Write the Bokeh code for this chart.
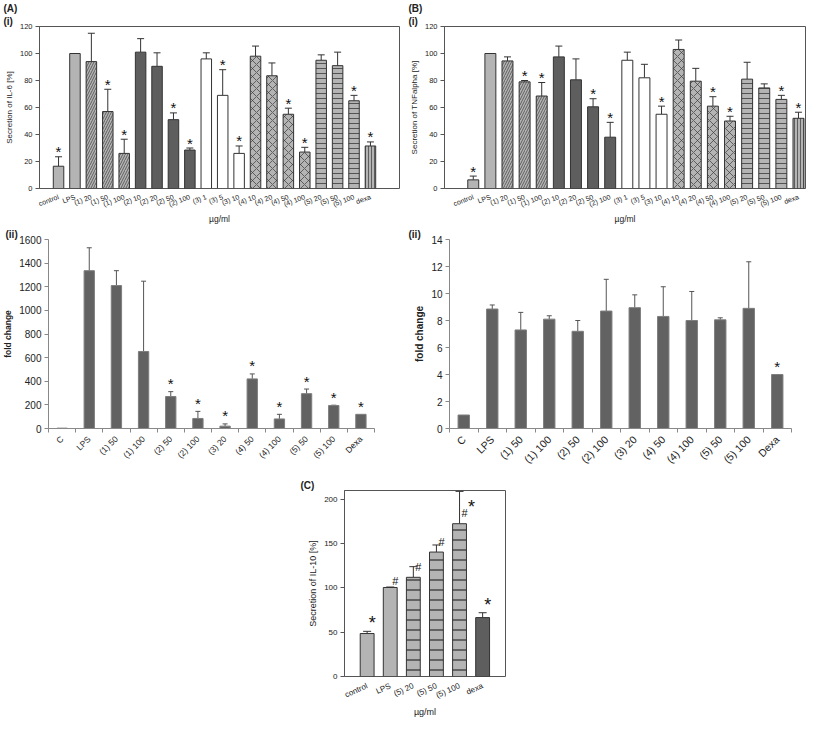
from math import pi
from bokeh.plotting import figure
from bokeh.models import FixedTicker, Title, Range1d, Whisker, TeeHead, ColumnDataSource, Spacer
from bokeh.layouts import row, column
from bokeh.embed import file_html
from bokeh.resources import INLINE
from bokeh.core.properties import value

FONT = "Liberation Sans"
TXT = "#222222"

# ---------------- data ----------------
screen_cats = ["control", "LPS", "(1) 20", "(1) 50", "(1) 100", "(2) 10", "(2) 20", "(2) 50", "(2) 100",
               "(3) 1", "(3) 5", "(3) 10", "(4) 10", "(4) 20", "(4) 50", "(4) 100",
               "(5) 20", "(5) 50", "(5) 100", "dexa"]
screen_group = ["ctrl", "ctrl", "1", "1", "1", "2", "2", "2", "2", "3", "3", "3",
                "4", "4", "4", "4", "5", "5", "5", "dexa"]

il6_mean = [16.5, 100, 94, 57, 26, 101, 90.5, 51, 28.5, 96, 69, 26, 98, 83.5, 55, 27, 95, 91, 65, 31.5]
il6_upper = [23.5, 100, 115, 73.5, 36.5, 111, 100.5, 56, 30, 100.5, 88, 31.5, 105.5, 93, 59.5, 30.5, 99, 101, 69, 34.5]
il6_sig = [1, 0, 0, 1, 1, 0, 0, 1, 1, 0, 1, 1, 0, 0, 1, 1, 0, 0, 1, 1]

tnf_mean = [6.4, 100, 94.5, 79, 68.5, 97.5, 80.5, 60.5, 38, 95, 82, 55, 103, 79.5, 61, 50, 81, 74.5, 66, 52]
tnf_upper = [9.2, 100, 97.5, 80, 78.5, 105.5, 96, 66.5, 49, 101, 92, 61, 110, 89, 68, 53.5, 93.5, 77.5, 69, 56.5]
tnf_sig = [1, 0, 0, 1, 1, 0, 0, 1, 1, 0, 0, 1, 0, 0, 1, 1, 0, 0, 1, 1]

pcr_cats = ["C", "LPS", "(1) 50", "(1) 100", "(2) 50", "(2) 100", "(3) 20", "(4) 50", "(4) 100",
            "(5) 50", "(5) 100", "Dexa"]
il6_fold_mean = [3, 1336, 1210, 652, 271, 85, 20, 420, 81, 295, 195, 120]
il6_fold_upper = [3, 1530, 1336, 1247, 312, 145, 39, 462, 120, 334, 197, 120]
il6_fold_sig = [0, 0, 0, 0, 1, 1, 1, 1, 1, 1, 1, 1]
il6_fold_ticks = [0, 200, 400, 600, 800, 1000, 1200, 1400, 1600]

tnf_fold_mean = [1, 8.85, 7.3, 8.1, 7.2, 8.7, 8.95, 8.3, 8.0, 8.05, 8.9, 4.0]
tnf_fold_upper = [1, 9.15, 8.6, 8.35, 8.0, 11.05, 9.9, 10.5, 10.15, 8.2, 12.35, 4.0]
tnf_fold_sig = [0, 0, 0, 0, 0, 0, 0, 0, 0, 0, 0, 1]
tnf_fold_ticks = [0, 2, 4, 6, 8, 10, 12, 14]

screen_ticks = [0, 20, 40, 60, 80, 100, 120]

il10_cats = ["control", "LPS", "(5) 20", "(5) 50", "(5) 100", "dexa"]
il10_group = ["ctrl", "ctrl", "5c", "5c", "5c", "2"]
il10_mean = [48.5, 100.5, 112, 140.5, 172.5, 66.5]
il10_upper = [51, 101, 124, 148.5, 209, 72]
il10_star = [1, 0, 0, 0, 1, 1]
il10_hash = [0, 1, 1, 1, 1, 0]
il10_ticks = [0, 50, 100, 150, 200]

# ---------------- styles ----------------
LIGHT = "#b4b4b4"
DARK = "#5e5e5e"
EDGE = "#333333"
HATCH = "#3a3a3a"
STYLE = {
    "ctrl": dict(fill_color=LIGHT),
    "1": dict(fill_color=LIGHT, hatch_pattern="/", hatch_color=HATCH, hatch_scale=5, hatch_weight=0.7),
    "2": dict(fill_color=DARK),
    "3": dict(fill_color="white"),
    "4": dict(fill_color=LIGHT, hatch_pattern="x", hatch_color=HATCH, hatch_scale=8, hatch_weight=0.7),
    "5": dict(fill_color=LIGHT, hatch_pattern="-", hatch_color=HATCH, hatch_scale=5, hatch_weight=0.8),
    "5c": dict(fill_color=LIGHT, hatch_pattern="-", hatch_color="#111111", hatch_scale=10, hatch_weight=1),
    "dexa": dict(fill_color=LIGHT, hatch_pattern="|", hatch_color=HATCH, hatch_scale=3, hatch_weight=0.7),
}


def base_fig(width, height, xr, yr, left, right, top, bottom):
    p = figure(width=width, height=height, x_range=xr, y_range=yr, output_backend="svg",
               toolbar_location=None, title=None, min_border_left=left, min_border_right=right,
               min_border_top=top, min_border_bottom=bottom)
    p.xgrid.visible = False
    p.ygrid.visible = False
    p.background_fill_color = "white"
    p.border_fill_color = "white"
    return p


def style_axis(ax, size, label_size, bold=False):
    ax.major_label_text_font = FONT
    ax.major_label_text_font_size = size
    ax.major_label_text_color = TXT
    ax.axis_label_text_font = FONT
    ax.axis_label_text_font_size = label_size
    ax.axis_label_text_font_style = "bold" if bold else "normal"
    ax.axis_label_text_color = TXT
    ax.minor_tick_line_color = None
    ax.major_label_standoff = 3
    ax.axis_label_standoff = 3


def add_tag(p, text, offset):
    p.add_layout(Title(text=text, align="left", offset=offset, text_font=FONT, text_font_size="10px",
                       text_font_style="bold", text_color=TXT, standoff=0), "above")


def add_err(p, xs, lo, hi, color, cap):
    keep = [i for i in range(len(xs)) if hi[i] > lo[i]]
    src = ColumnDataSource(dict(x=[xs[i] for i in keep], lo=[lo[i] for i in keep], hi=[hi[i] for i in keep]))
    p.add_layout(Whisker(source=src, base="x", lower="lo", upper="hi", line_color=color, line_width=1,
                         lower_head=None, upper_head=TeeHead(size=cap, line_color=color, line_width=1)))


def add_marks(p, xs, ys, text, size, x_off=0, y_off=0):
    p.text(x=xs, y=ys, text=[text] * len(xs), text_align="center", text_baseline="alphabetic",
           text_font=value(FONT), text_font_size=size, text_color="#111111", x_offset=x_off, y_offset=y_off)


def grouped_bars(p, xs, mean, groups, width):
    for g, st in STYLE.items():
        idx = [i for i, gg in enumerate(groups) if gg == g]
        if idx:
            p.vbar(x=[xs[i] for i in idx], top=[mean[i] for i in idx], bottom=0, width=width,
                   line_color=EDGE, line_width=1, **st)


def screen_panel(mean, upper, sig, ylabel, tag, x_lo, x_hi, width, left, right):
    xs = list(range(1, len(mean) + 1))
    p = base_fig(width, 226, Range1d(x_lo, x_hi), Range1d(0, 120), left, right, 10, 10)
    p.outline_line_color = "#555555"
    grouped_bars(p, xs, mean, screen_group, 0.64)
    add_err(p, xs, mean, upper, EDGE, 7)
    add_marks(p, [xs[i] for i in range(len(xs)) if sig[i]], [upper[i] for i in range(len(xs)) if sig[i]],
              "*", "15px", 0, -5)
    style_axis(p.xaxis[0], "7px", "8.5px")
    p.xaxis.ticker = FixedTicker(ticks=xs)
    p.xaxis.major_label_overrides = {x: c for x, c in zip(xs, screen_cats)}
    p.xaxis.major_label_orientation = 0.36
    p.xaxis.major_tick_line_color = None
    p.xaxis.axis_line_color = None
    p.xaxis.axis_label = "µg/ml"
    p.xaxis.axis_label_standoff = 0
    p.xaxis.major_label_standoff = 2
    style_axis(p.yaxis[0], "7.5px", "8px")
    p.yaxis.ticker = FixedTicker(ticks=screen_ticks)
    p.yaxis.axis_label = ylabel
    p.yaxis.major_tick_in = 0
    p.yaxis.major_tick_out = 4
    p.yaxis.axis_line_color = "#555555"
    p.yaxis.major_tick_line_color = "#555555"
    add_tag(p, "(i)", -36)
    add_tag(p, tag, -36)
    return p


def fold_panel(mean, upper, sig, ticks, bar_w, width, left, right, xsize, ysize, lsize, tag_off):
    xs = list(range(1, len(mean) + 1))
    p = base_fig(width, 248, Range1d(0.5, len(mean) + 0.5), Range1d(0, ticks[-1]), left, right, 12, 46)
    p.outline_line_color = None
    p.vbar(x=xs, top=mean, bottom=0, width=bar_w, fill_color="#626262", line_color="#7e7e7e", line_width=1)
    add_err(p, xs, mean, upper, "#555555", 5)
    add_marks(p, [xs[i] for i in range(len(xs)) if sig[i]], [upper[i] for i in range(len(xs)) if sig[i]],
              "*", "15px", 0, -8)
    style_axis(p.xaxis[0], xsize, lsize)
    p.xaxis.ticker = FixedTicker(ticks=xs, minor_ticks=[i + 0.5 for i in range(len(xs) + 1)])
    p.xaxis.major_label_overrides = {x: c for x, c in zip(xs, pcr_cats)}
    p.xaxis.major_label_orientation = pi / 4
    p.xaxis.major_tick_line_color = None
    p.xaxis.minor_tick_line_color = "#888888"
    p.xaxis.minor_tick_in = 0
    p.xaxis.minor_tick_out = 4
    p.xaxis.axis_line_color = "#888888"
    style_axis(p.yaxis[0], ysize, lsize, bold=True)
    p.yaxis.ticker = FixedTicker(ticks=ticks)
    p.yaxis.axis_label = "fold change"
    p.yaxis.major_tick_in = 0
    p.yaxis.major_tick_out = 4
    p.yaxis.axis_line_color = "#888888"
    p.yaxis.major_tick_line_color = "#888888"
    add_tag(p, "(ii)", tag_off)
    return p


# ---------------- panels ----------------
pA1 = screen_panel(il6_mean, il6_upper, il6_sig, "Secretion of IL-6 [%]", "(A)", -0.16, 21.77, 405, 39, 6)
pB1 = screen_panel(tnf_mean, tnf_upper, tnf_sig, "Secretion of TNFalpha [%]", "(B)", -0.68, 20.41, 404, 39, 4)

pA2 = fold_panel(il6_fold_mean, il6_fold_upper, il6_fold_sig, il6_fold_ticks, 0.38, 405, 46, 31,
                 "8.5px", "10px", "8.5px", -43)
pB2 = fold_panel(tnf_fold_mean, tnf_fold_upper, tnf_fold_sig, tnf_fold_ticks, 0.4, 404, 44, 18,
                 "10.5px", "10px", "10px", -41)

# (C)
xs_c = list(range(1, len(il10_mean) + 1))
pC = base_fig(228, 246, Range1d(0.02, 6.99), Range1d(0, 210), 52, 15, 16, 10)
pC.outline_line_color = "#555555"
grouped_bars(pC, xs_c, il10_mean, il10_group, 0.6)
add_err(pC, xs_c, il10_mean, il10_upper, EDGE, 8)
hash_y = [min(u, m + 5) for m, u in zip(il10_mean, il10_upper)]
star_y = [min(u, m + 10) for m, u in zip(il10_mean, il10_upper)]
star_dx = [5 + 7 * h for h in il10_hash]
add_marks(pC, [xs_c[i] for i in range(6) if il10_hash[i]], [hash_y[i] for i in range(6) if il10_hash[i]],
          "#", "11px", 5, -6)
add_marks(pC, [xs_c[i] for i in range(6) if il10_star[i]], [star_y[i] for i in range(6) if il10_star[i]],
          "*", "18px", [star_dx[i] for i in range(6) if il10_star[i]], -8)
style_axis(pC.xaxis[0], "8px", "9px")
pC.xaxis.ticker = FixedTicker(ticks=xs_c)
pC.xaxis.major_label_overrides = {x: c for x, c in zip(xs_c, il10_cats)}
pC.xaxis.major_label_orientation = 0.42
pC.xaxis.major_tick_line_color = None
pC.xaxis.axis_line_color = None
pC.xaxis.axis_label = "µg/ml"
pC.xaxis.axis_label_standoff = 0
pC.xaxis.major_label_standoff = 3
style_axis(pC.yaxis[0], "8px", "9px")
pC.yaxis.ticker = FixedTicker(ticks=il10_ticks)
pC.yaxis.axis_label = "Secretion of IL-10 [%]"
pC.yaxis.major_tick_in = 0
pC.yaxis.major_tick_out = 4
pC.yaxis.axis_line_color = "#555555"
pC.yaxis.major_tick_line_color = "#555555"
add_tag(pC, "(C)", -44)

layout = column(row(pA1, pB1), row(pA2, pB2), row(Spacer(width=292, height=246), pC))

open("out.html", "w").write(file_html(layout, INLINE))
